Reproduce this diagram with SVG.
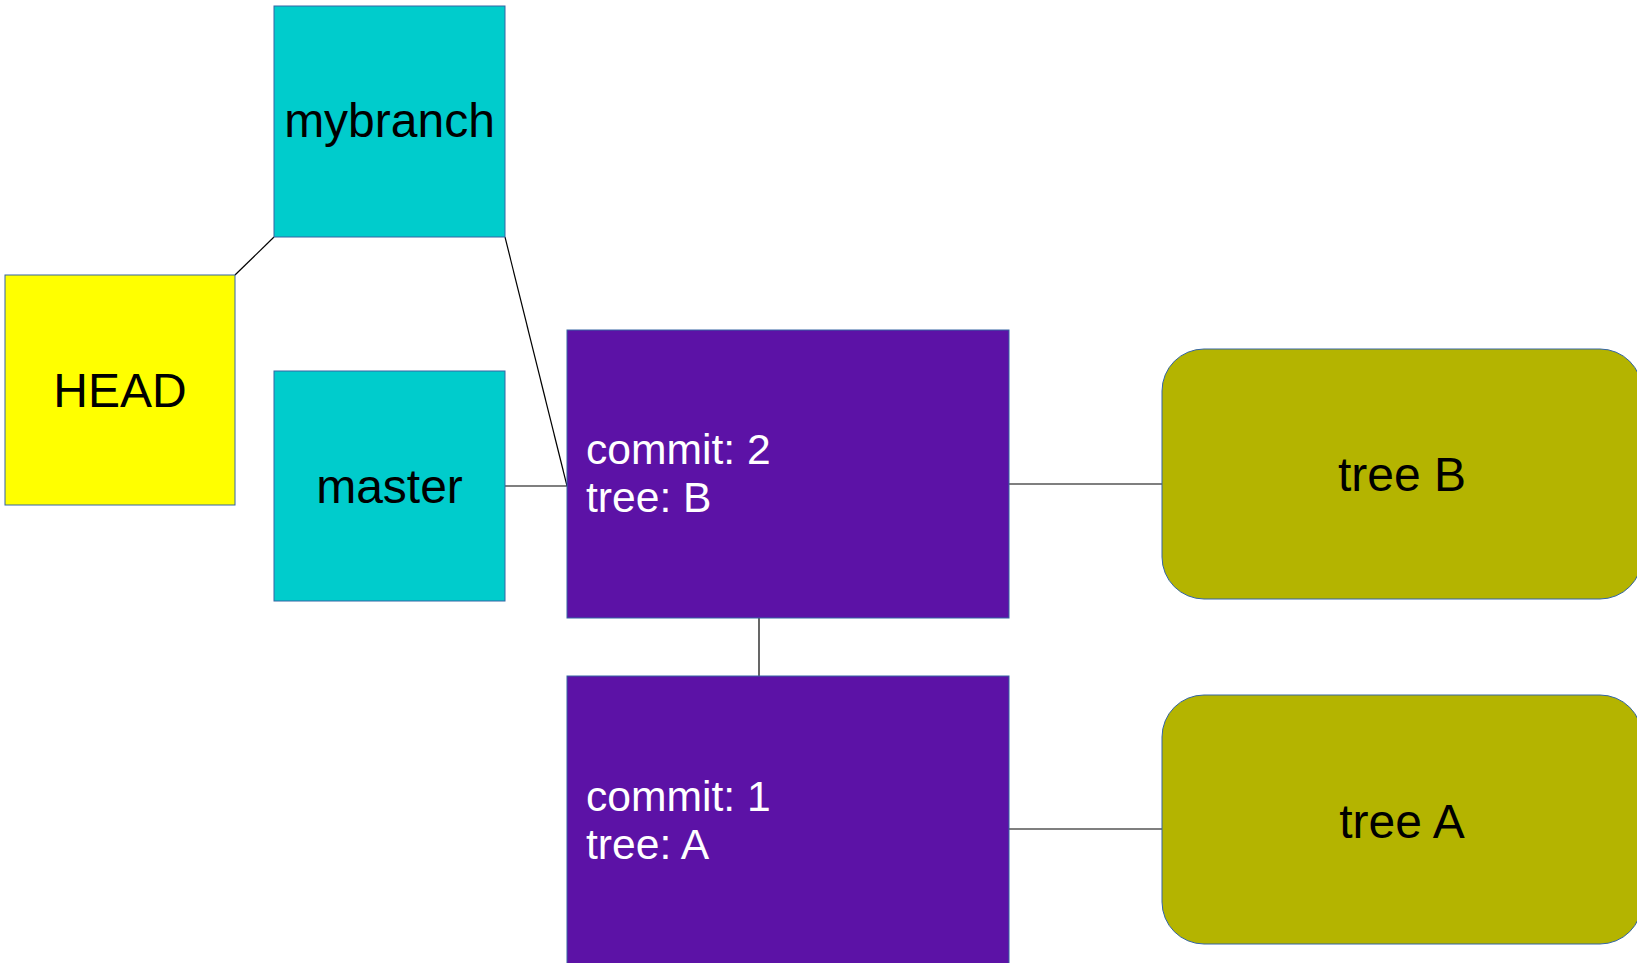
<svg xmlns="http://www.w3.org/2000/svg" width="1637" height="963" viewBox="0 0 1637 963">
<style>
.box{stroke:#3465a4;stroke-width:1}
.ref{fill:#00cccc}
.head{fill:#ffff00}
.commit{fill:#5c12a6}
.tree{fill:#b4b400}
.lbl{font-family:"Liberation Sans",Arial,sans-serif;font-size:48px;fill:#000;text-anchor:middle}
.ctxt{font-family:"Liberation Sans",Arial,sans-serif;font-size:42.6px;fill:#fff}
.conn line{stroke:#000;stroke-width:1.2}
</style>
<rect width="1637" height="963" fill="#fff"/>
<g id="connectors" class="conn">
<line x1="274" y1="237" x2="235" y2="275"/>
<line x1="505" y1="237" x2="567" y2="486"/>
<line x1="505" y1="486" x2="567" y2="486"/>
<line x1="1009" y1="484" x2="1162" y2="484"/>
<line x1="759" y1="618" x2="759" y2="676"/>
<line x1="1009" y1="829" x2="1162" y2="829"/>
</g>
<g id="mybranch">
<rect class="box ref" x="274" y="6" width="231" height="231"/>
<text class="lbl" x="389.5" y="137">mybranch</text>
</g>
<g id="head">
<rect class="box head" x="5" y="275" width="230" height="230"/>
<text class="lbl" x="120" y="407">HEAD</text>
</g>
<g id="master">
<rect class="box ref" x="274" y="371" width="231" height="230"/>
<text class="lbl" x="389.5" y="503">master</text>
</g>
<g id="commit2">
<rect class="box commit" x="567" y="330" width="442" height="288"/>
<text class="ctxt" x="586" y="464">commit: 2</text>
<text class="ctxt" x="586" y="512">tree: B</text>
</g>
<g id="commit1">
<rect class="box commit" x="567" y="676" width="442" height="300"/>
<text class="ctxt" x="586" y="811">commit: 1</text>
<text class="ctxt" x="586" y="859">tree: A</text>
</g>
<g id="treeB">
<rect class="box tree" x="1162" y="349" width="480" height="250" rx="42" ry="42"/>
<text class="lbl" x="1402" y="491">tree B</text>
</g>
<g id="treeA">
<rect class="box tree" x="1162" y="695" width="480" height="249" rx="42" ry="42"/>
<text class="lbl" x="1402" y="838">tree A</text>
</g>
</svg>
